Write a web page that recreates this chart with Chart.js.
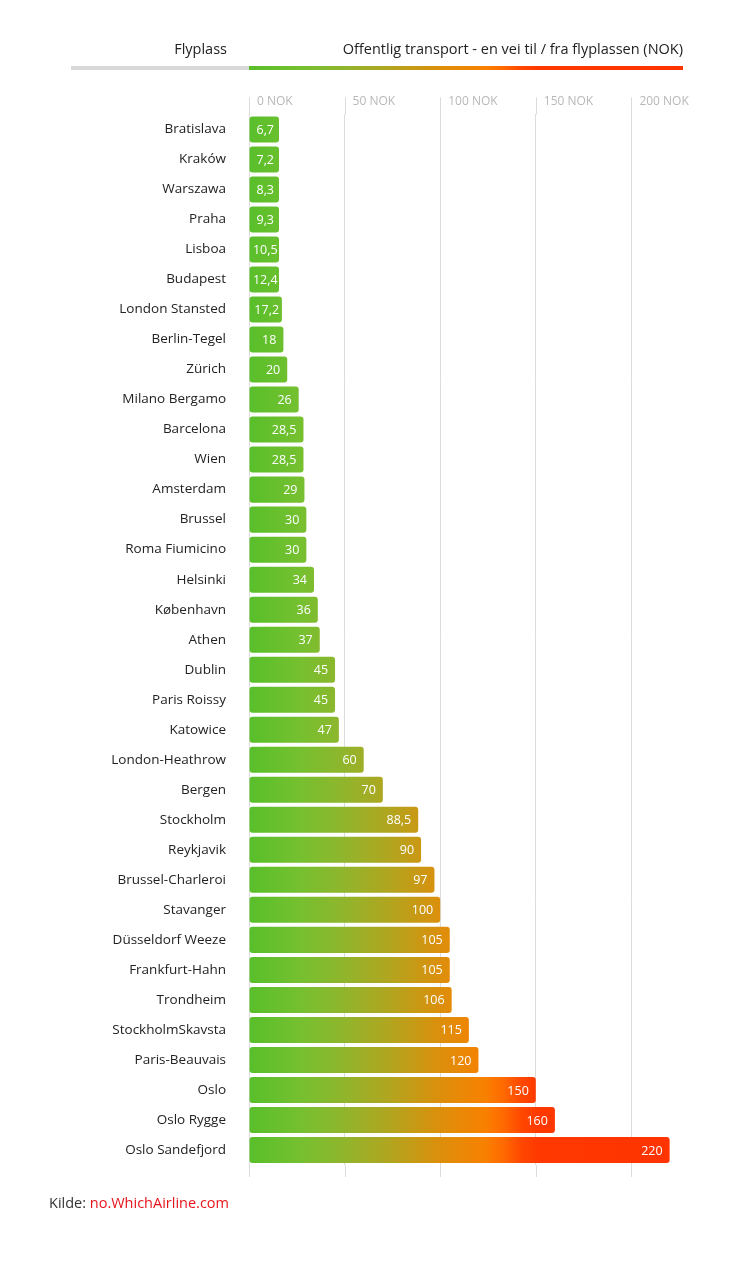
<!DOCTYPE html>
<html>
<head>
<meta charset="utf-8">
<script src="https://cdn.jsdelivr.net/npm/chart.js@4/dist/chart.umd.min.js"></script>
<style>
  body { margin: 0; background: #fff; font-family: "Open Sans", sans-serif; }
  #wrap { position: relative; width: 750px; height: 1272px; }
  #chart { position: absolute; left: 0; top: 0; }
  .head { position: absolute; top: 39px; font-size: 14.5px; color: #222; white-space: nowrap; }
  #hLeft { right: 523px; }
  #hRight { right: 67px; }
  #lineGray { position: absolute; left: 71px; top: 66px; width: 178px; height: 4px; background: #d8d8d8; }
  #lineGrad { position: absolute; left: 249px; top: 66px; width: 434px; height: 4px; }
  #source { position: absolute; left: 49px; top: 1193px; font-size: 14.5px; color: #333; }
  #source span { color: #e8141b; }
</style>
</head>
<body>
<div id="wrap">
  <canvas id="chart" width="750" height="1272"></canvas>
  <div class="head" id="hLeft">Flyplass</div>
  <div class="head" id="hRight">Offentlig transport - en vei til / fra flyplassen (NOK)</div>
  <div id="lineGray"></div>
  <div id="lineGrad"></div>
  <div id="source">Kilde: <span>no.WhichAirline.com</span></div>
</div>
<script>
// Airports and one-way public transport price (NOK)
const airports = [
    'Bratislava', 'Kraków', 'Warszawa', 'Praha', 'Lisboa', 'Budapest', 'London Stansted',
    'Berlin-Tegel', 'Zürich', 'Milano Bergamo', 'Barcelona', 'Wien', 'Amsterdam', 'Brussel',
    'Roma Fiumicino', 'Helsinki', 'København', 'Athen', 'Dublin', 'Paris Roissy', 'Katowice',
    'London-Heathrow', 'Bergen', 'Stockholm', 'Reykjavik', 'Brussel-Charleroi', 'Stavanger',
    'Düsseldorf Weeze', 'Frankfurt-Hahn', 'Trondheim', 'StockholmSkavsta', 'Paris-Beauvais',
    'Oslo', 'Oslo Rygge', 'Oslo Sandefjord'
];
const prices = [
    6.7, 7.2, 8.3, 9.3, 10.5, 12.4, 17.2,
    18, 20, 26, 28.5, 28.5, 29, 30,
    30, 34, 36, 37, 45, 45, 47,
    60, 70, 88.5, 90, 97, 100,
    105, 105, 106, 115, 120,
    150, 160, 220
];
const tickValues = [0, 50, 100, 150, 200];

// colour stops shared by the header line and the bars
const gradStops = [
    [0, '#58bf2a'], [0.12, '#76c030'], [0.22, '#90b52c'], [0.33, '#b4a41e'],
    [0.44, '#dc8f0c'], [0.545, '#f98000'], [0.585, '#ff6a00'], [0.63, '#ff4600'],
    [0.67, '#ff3800'], [1, '#ff3300']
];

document.getElementById('lineGrad').style.background =
    'linear-gradient(to right, ' + gradStops.map(s => s[1] + ' ' + (s[0] * 100) + '%').join(', ') + ')';

let barGradient = null;
function getGradient(chart) {
    const area = chart.chartArea;
    if (!area) return '#58bf2a';
    if (!barGradient) {
        barGradient = chart.ctx.createLinearGradient(area.left, 0, area.right, 0);
        gradStops.forEach(s => barGradient.addColorStop(s[0], s[1]));
    }
    return barGradient;
}

const gridColor = '#dcdcdc';

// grid stubs above and below the plot (next to the tick labels and under the last bar)
const gridTail = {
    id: 'gridTail',
    beforeDatasetsDraw(chart) {
        const ctx = chart.ctx;
        const x = chart.scales.x;
        const {top, bottom} = chart.chartArea;
        ctx.save();
        ctx.strokeStyle = gridColor;
        ctx.lineWidth = 1;
        tickValues.forEach(v => {
            const px = Math.round(x.getPixelForValue(v)) + 0.5;
            ctx.beginPath();
            ctx.moveTo(px, top - 17);
            ctx.lineTo(px, top);
            ctx.moveTo(px, bottom);
            ctx.lineTo(px, bottom + 12);
            ctx.stroke();
        });
        ctx.restore();
    }
};

// white value labels inside the bar ends
const valueLabels = {
    id: 'valueLabels',
    afterDatasetsDraw(chart) {
        const ctx = chart.ctx;
        const meta = chart.getDatasetMeta(0);
        ctx.save();
        ctx.font = '12.5px "Open Sans"';
        ctx.fillStyle = '#fff';
        ctx.textBaseline = 'middle';
        meta.data.forEach((bar, i) => {
            const text = String(prices[i]).replace('.', ',');
            const w = ctx.measureText(text).width;
            const len = bar.x - bar.base;
            if (len < w + 14) {
                ctx.textAlign = 'center';
                ctx.fillText(text, bar.base + len / 2 + 1, bar.y + 1);
            } else {
                ctx.textAlign = 'right';
                ctx.fillText(text, bar.x - 7, bar.y + 1);
            }
        });
        ctx.restore();
    }
};

const ctx = document.getElementById('chart').getContext('2d');
const chart = new Chart(ctx, {
    type: 'bar',
    data: {
        labels: airports,
        datasets: [{
            data: prices,
            backgroundColor: (c) => getGradient(c.chart),
            borderRadius: 3,
            borderSkipped: false,
            barPercentage: 0.867,
            categoryPercentage: 1,
            minBarLength: 30
        }]
    },
    options: {
        indexAxis: 'y',
        responsive: false,
        animation: false,
        layout: { padding: { top: 88, bottom: 107, left: 0, right: 67 } },
        plugins: {
            legend: { display: false },
            tooltip: { enabled: false }
        },
        scales: {
            x: {
                position: 'top',
                min: 0,
                max: 227,
                afterBuildTicks(scale) {
                    scale.ticks = tickValues.map(v => ({ value: v }));
                },
                grid: { color: gridColor, drawTicks: false },
                border: { display: false },
                ticks: {
                    align: 'start',
                    labelOffset: 8,
                    padding: 6,
                    color: '#b8b8b8',
                    font: { family: 'Open Sans', size: 12 },
                    callback: (v) => v + ' NOK'
                }
            },
            y: {
                afterFit(scale) { scale.width = 249; },
                grid: { display: false, drawTicks: false },
                border: { display: false },
                ticks: {
                    padding: 23,
                    color: '#222',
                    font: { family: 'Open Sans', size: 13.5 },
                    autoSkip: false
                }
            }
        }
    },
    plugins: [gridTail, valueLabels]
});
</script>
</body>
</html>
